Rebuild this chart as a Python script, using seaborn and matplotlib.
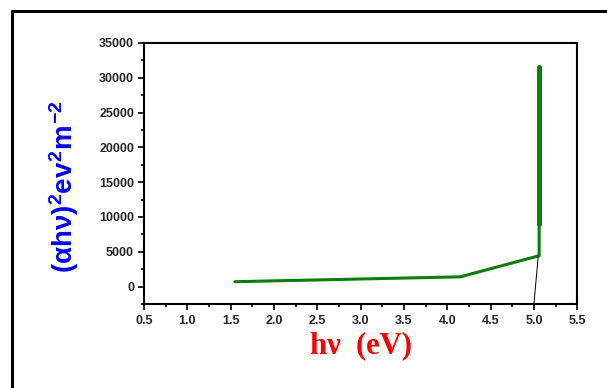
import matplotlib
matplotlib.use("Agg")
import matplotlib.pyplot as plt
import seaborn as sns
import pandas as pd
from matplotlib.ticker import AutoMinorLocator
from matplotlib.lines import Line2D

sns.set_style("white")
plt.rcParams["mathtext.fontset"] = "custom"
plt.rcParams["mathtext.rm"] = "Liberation Sans:bold"
plt.rcParams["mathtext.it"] = "Liberation Sans:bold"
plt.rcParams["mathtext.bf"] = "Liberation Sans:bold"
plt.rcParams["mathtext.sf"] = "Liberation Sans:bold"

# data
hv_curve = [1.55, 4.15, 5.05, 5.06, 5.06]
ahv2_curve = [700, 1400, 4400, 4400, 9000]
hv_steep = [5.06, 5.06]
ahv2_steep = [9000, 31500]
hv_fit = [5.05, 5.0]
ahv2_fit = [4400, -2500]

x_ticks = [0.5, 1.0, 1.5, 2.0, 2.5, 3.0, 3.5, 4.0, 4.5, 5.0, 5.5]
y_ticks = [0, 5000, 10000, 15000, 20000, 25000, 30000, 35000]

fig = plt.figure(figsize=(6.07, 3.88), dpi=100)
ax = fig.add_axes([0.237, 0.2165, 0.714, 0.673])

df1 = pd.DataFrame({"hv": hv_curve, "y": ahv2_curve})
df2 = pd.DataFrame({"hv": hv_steep, "y": ahv2_steep})
df3 = pd.DataFrame({"hv": hv_fit, "y": ahv2_fit})
sns.lineplot(data=df1, x="hv", y="y", ax=ax, color="#0a7d0a", lw=2.2, sort=False, estimator=None)
sns.lineplot(data=df2, x="hv", y="y", ax=ax, color="#0a7d0a", lw=3.6, sort=False, estimator=None,
             solid_capstyle="round")
sns.lineplot(data=df3, x="hv", y="y", ax=ax, color="black", lw=0.7, sort=False, estimator=None)

ax.set_xlim(0.5, 5.5)
ax.set_ylim(-2500, 35000)
ax.set_xticks(x_ticks)
ax.set_yticks(y_ticks)
ax.set_xticklabels([f"{v:.1f}" for v in x_ticks])
ax.set_yticklabels([str(v) for v in y_ticks])
ax.xaxis.set_minor_locator(AutoMinorLocator(2))
ax.yaxis.set_minor_locator(AutoMinorLocator(2))
ax.tick_params(which="major", direction="out", length=4, width=1.2, color="black",
               bottom=True, left=True, top=False, right=False)
ax.tick_params(axis="x", which="major", pad=4)
ax.tick_params(axis="y", which="major", pad=3)
ax.tick_params(which="minor", direction="out", length=2.5, width=1.2, color="black",
               bottom=True, left=True, top=False, right=False)
for lab in ax.get_xticklabels() + ax.get_yticklabels():
    lab.set_fontfamily("Liberation Sans")
    lab.set_fontweight("bold")
    lab.set_fontsize(9)
for s in ax.spines.values():
    s.set_color("black")
    s.set_linewidth(1.5)

ax.set_xlabel("hν  (eV)", color="red", fontsize=22, fontweight="bold",
              fontfamily="Liberation Serif", labelpad=3)
ax.set_ylabel(r"$(\alpha h\nu)^2 ev^2 m^{-2}$", color="blue", fontsize=20)
ax.yaxis.set_label_coords(-0.145, 0.45)

# outer frame
fig.add_artist(Line2D([12/607, 12/607], [1-11/388, 0], transform=fig.transFigure, color="black", lw=2.2))
fig.add_artist(Line2D([12/607, 1], [1-11/388, 1-11/388], transform=fig.transFigure, color="black", lw=2.2))

fig.savefig("out.png", dpi=100)
